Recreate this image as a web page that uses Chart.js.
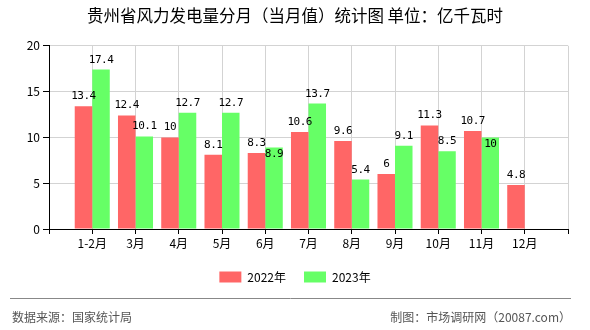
<!DOCTYPE html>
<html lang="zh-CN">
<head>
<meta charset="UTF-8">
<title>贵州省风力发电量分月统计图</title>
<script src="https://cdn.jsdelivr.net/npm/chart.js"></script>
<style>
  html, body { margin: 0; padding: 0; background: #fff; }
</style>
</head>
<body>
<canvas id="myChart" width="590" height="330"></canvas>
<script>
// 월 라벨
const months = ['1-2月', '3月', '4月', '5月', '6月', '7月', '8月', '9月', '10月', '11月', '12月'];
// 연도별 발전량 (억 kWh)
const data2022 = [13.4, 12.4, 10, 8.1, 8.3, 10.6, 9.6, 6, 11.3, 10.7, 4.8];
const data2023 = [17.4, 10.1, 12.7, 12.7, 8.9, 13.7, 5.4, 9.1, 8.5, 10, null];
// Y축 눈금
const yTicks = [0, 5, 10, 15, 20];

const FONT = '"Noto Sans CJK SC", sans-serif';
Chart.defaults.font.family = FONT;
Chart.defaults.color = '#000';

// 축 양끝에 빈 칸을 하나씩 둔다
const labels = ['', ...months, ''];
const pad = arr => [null, ...arr, null];

// 막대 위 값 표시 (겹치면 두번째 값은 막대 안쪽으로)
const valueLabels = {
  id: 'valueLabels',
  afterDatasetsDraw(chart) {
    const c = chart.ctx;
    c.save();
    c.font = '11px "DejaVu Sans Mono"';
    c.letterSpacing = '-0.5px';
    c.fillStyle = '#000';
    c.textAlign = 'center';
    c.textBaseline = 'alphabetic';
    const prev = [];
    chart.data.datasets.forEach((ds, di) => {
      const meta = chart.getDatasetMeta(di);
      meta.data.forEach((bar, i) => {
        const v = ds.data[i];
        if (v == null) return;
        const text = String(v);
        const w = c.measureText(text).width;
        let base = bar.y - 7;
        const box = { l: bar.x - w / 2, r: bar.x + w / 2, t: base - 8, b: base };
        const o = prev[i];
        if (di > 0 && o && box.l < o.r + 2 && box.r > o.l - 2 && box.t < o.b + 1 && box.b > o.t - 1) {
          base = bar.y + 10;
        }
        if (di === 0) prev[i] = box;
        c.fillText(text, bar.x, base);
      });
    });
    c.restore();
  }
};

// 하단 구분선과 출처
const footer = {
  id: 'footer',
  afterDraw(chart) {
    const c = chart.ctx;
    c.save();
    c.strokeStyle = '#888';
    c.lineWidth = 1;
    c.beginPath();
    c.moveTo(10, 298.5);
    c.lineTo(571, 298.5);
    c.stroke();
    c.fillStyle = '#555';
    c.font = '12px ' + FONT;
    c.textBaseline = 'middle';
    c.textAlign = 'left';
    c.fillText('数据来源：国家统计局', 12, 317);
    c.textAlign = 'right';
    c.fillText('制图：市场调研网（20087.com）', 571, 317);
    c.restore();
  }
};

const ctx = document.getElementById('myChart').getContext('2d');

let myChart = new Chart(ctx, {
  type: 'bar',
  data: {
    labels: labels,
    datasets: [
      { label: '2022年', data: pad(data2022), backgroundColor: '#ff6666', borderWidth: 0 },
      { label: '2023年', data: pad(data2023), backgroundColor: '#66ff66', borderWidth: 0 }
    ]
  },
  options: {
    responsive: false,
    animation: false,
    categoryPercentage: 0.81,
    barPercentage: 1,
    layout: { padding: { left: 0, right: 0, top: 0, bottom: 37 } },
    plugins: {
      title: {
        display: true,
        text: '贵州省风力发电量分月（当月值）统计图 单位：亿千瓦时',
        color: '#000',
        font: { size: 16.5, weight: 'normal' },
        padding: { top: 6, bottom: 20 }
      },
      legend: {
        position: 'bottom',
        labels: { boxWidth: 22, boxHeight: 11, padding: 18, color: '#000', font: { size: 12 } }
      },
      tooltip: { enabled: false }
    },
    scales: {
      x: {
        offset: false,
        grid: { offset: false, color: '#d3d3d3', tickColor: '#000', tickLength: 5 },
        border: { color: '#000' },
        ticks: { color: '#000', font: { size: 12 }, maxRotation: 0, autoSkip: false, padding: 2 },
        afterFit: s => { s.height = 24; }
      },
      y: {
        min: 0,
        max: 20,
        grid: { color: '#d3d3d3', tickColor: '#000', tickLength: 6 },
        border: { color: '#000' },
        ticks: { color: '#000', font: { size: 12 }, padding: 3 },
        afterBuildTicks: s => { s.ticks = yTicks.map(v => ({ value: v })); },
        afterFit: s => { s.width = 49; }
      },
      // 오른쪽 여백용 (그리지 않음)
      yRight: {
        position: 'right',
        grid: { display: false },
        border: { display: false },
        ticks: { display: false },
        afterFit: s => { s.width = 22; }
      }
    }
  },
  plugins: [valueLabels, footer]
});
</script>
</body>
</html>
